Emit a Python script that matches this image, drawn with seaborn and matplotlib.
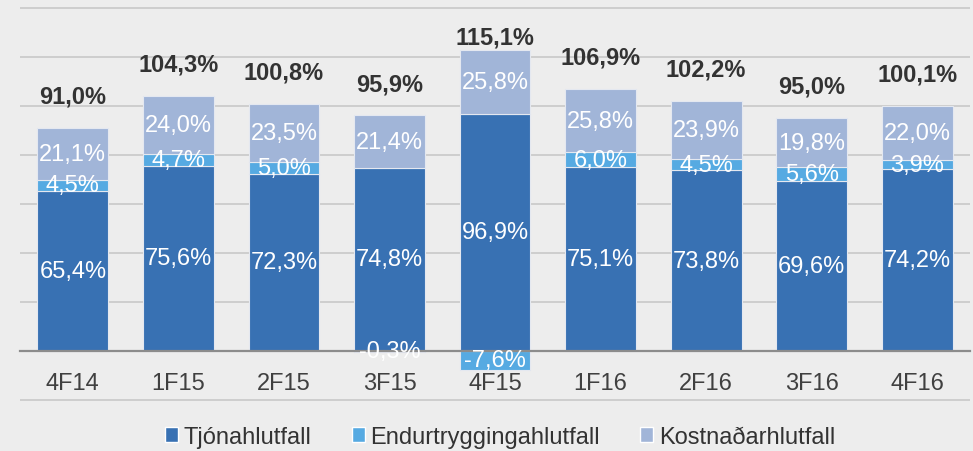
import pandas as pd
import matplotlib.pyplot as plt
import seaborn as sns
from matplotlib.patches import Patch


quarters = ['4F14', '1F15', '2F15', '3F15', '4F15', '1F16', '2F16', '3F16', '4F16']
tjon = [65.4, 75.6, 72.3, 74.8, 96.9, 75.1, 73.8, 69.6, 74.2]
endurtrygging = [4.5, 4.7, 5.0, -0.3, -7.6, 6.0, 4.5, 5.6, 3.9]
kostnadur = [21.1, 24.0, 23.5, 21.4, 25.8, 25.8, 23.9, 19.8, 22.0]
samtals = [91.0, 104.3, 100.8, 95.9, 115.1, 106.9, 102.2, 95.0, 100.1]

series_names = ['Tjónahlutfall', 'Endurtryggingahlutfall', 'Kostnaðarhlutfall']
colors = ['#3871B3', '#56AAE2', '#A1B5D8']
bg = '#EDEDED'

df = pd.DataFrame({'quarter': quarters, 'tjon': tjon,
                   'endur': endurtrygging, 'kostn': kostnadur, 'total': samtals})
# negative values stack below zero, positive ones on top of the previous series
df['endur_bottom'] = df['tjon'].where(df['endur'] > 0, 0)
df['kostn_bottom'] = df['tjon'] + df['endur'].clip(lower=0)

sns.set_theme(style='white')
plt.rcParams['font.family'] = ['Liberation Sans', 'DejaVu Sans']

fig = plt.figure(figsize=(9.73, 4.52), dpi=100, facecolor=bg)
ax = fig.add_axes([0.0206, 0.1106, 0.9764, 0.8714])
ax.set_facecolor(bg)

bar_kw = dict(width=0.67, edgecolor='#E4E8F0', linewidth=0.8, saturation=1)
sns.barplot(data=df, x='quarter', y='tjon', color=colors[0], ax=ax, **bar_kw)
sns.barplot(data=df, x='quarter', y='endur', bottom=df['endur_bottom'],
            color=colors[1], ax=ax, **bar_kw)
sns.barplot(data=df, x='quarter', y='kostn', bottom=df['kostn_bottom'],
            color=colors[2], ax=ax, **bar_kw)

fmt = lambda v: f'{v:.1f}%'.replace('.', ',')
for i, row in df.iterrows():
    ax.text(i, row['tjon'] / 2, fmt(row['tjon']), ha='center', va='center',
            color='white', fontsize=17)
    ax.text(i, row['endur_bottom'] + row['endur'] / 2, fmt(row['endur']),
            ha='center', va='center', color='white', fontsize=17)
    ax.text(i, row['kostn_bottom'] + row['kostn'] / 2, fmt(row['kostn']),
            ha='center', va='center', color='white', fontsize=17)
    ax.annotate(fmt(row['total']), (i, row['total']), xytext=(0, 23),
                textcoords='offset points', ha='center', va='center',
                fontsize=17, fontweight='bold', color='#333333')

ax.set_ylim(-20.4, 140.4)
ax.set_xlim(-0.5, len(quarters) - 0.5)
ax.set_yticks(range(-20, 141, 20))
ax.yaxis.grid(True, color='#C8C8C8', linewidth=1.2)
ax.set_axisbelow(True)
ax.tick_params(axis='y', left=False, labelleft=False)
ax.tick_params(axis='x', bottom=False, pad=9, labelsize=17, labelcolor='#404040')
ax.set_xlabel('')
ax.set_ylabel('')

for side in ['top', 'left', 'right']:
    ax.spines[side].set_visible(False)
ax.spines['bottom'].set_position(('data', 0))
ax.spines['bottom'].set_color('#8C8C8C')
ax.spines['bottom'].set_linewidth(1.6)

handles = [Patch(facecolor=c, label=n) for c, n in zip(colors, series_names)]
fig.legend(handles=handles, loc='lower center', bbox_to_anchor=(0.514, -0.04),
           ncol=3, frameon=False, fontsize=17, labelcolor='#333333',
           handlelength=0.55, handleheight=0.55, handletextpad=0.25,
           columnspacing=1.7)

fig.savefig('out.png', dpi=100, facecolor=bg)
